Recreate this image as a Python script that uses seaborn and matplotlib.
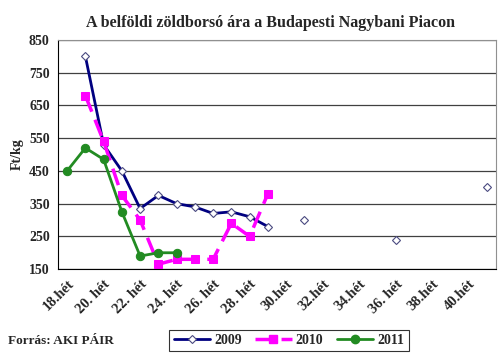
import numpy as np
import seaborn as sns
import matplotlib.pyplot as plt
from matplotlib.lines import Line2D

# Adatok (heti árak, Ft/kg)
weeks = list(range(18, 42))
nan = np.nan
price_2009 = [nan, 800, 530, 450, 335, 375, 350, 340, 320, 325, 310, 280,
              nan, 300, nan, nan, nan, nan, 240, nan, nan, nan, nan, 400]
price_2010 = [nan, 680, 540, 375, 300, 165, 180, 180, 180, 290, 250, 380,
              nan, nan, nan, nan, nan, nan, nan, nan, nan, nan, nan, nan]
price_2011 = [450, 520, 485, 325, 190, 200, 200, nan, nan, nan, nan, nan,
              nan, nan, nan, nan, nan, nan, nan, nan, nan, nan, nan, nan]
tick_labels = ["18.hét", "20. hét", "22. hét", "24. hét", "26. hét", "28. hét",
               "30.hét", "32.hét", "34.hét", "36. hét", "38.hét", "40.hét"]

sns.set_style("white")
plt.rcParams['font.family'] = ['Liberation Serif', 'DejaVu Serif']

fig = plt.figure(figsize=(5, 3.56), dpi=100)
ax = fig.add_axes([0.116, 0.244, 0.876, 0.644])

styles = {
    "2009": dict(color="#000080", marker="D", markersize=4.5, markerfacecolor="white",
                 markeredgecolor="#4a4a80", markeredgewidth=0.8, linewidth=2, dashes=False),
    "2010": dict(color="#ff00ff", marker="s", markersize=6, markeredgecolor="#ff00ff",
                 linewidth=2.5, dashes=(5, 2.5)),
    "2011": dict(color="#228b22", marker="o", markersize=6, markeredgecolor="#228b22",
                 linewidth=2, dashes=False),
}


def segments(xs, ys):
    # folytonos szakaszok (NaN = hiányzó adat)
    seg = []
    for x, y in zip(xs, ys):
        if np.isnan(y):
            if seg:
                yield seg
            seg = []
        else:
            seg.append((x, y))
    if seg:
        yield seg


for name, values in [("2009", price_2009), ("2010", price_2010), ("2011", price_2011)]:
    st = dict(styles[name])
    dashes = st.pop("dashes")
    for seg in segments(weeks, values):
        sx = [p[0] for p in seg]
        sy = [p[1] for p in seg]
        sns.lineplot(x=sx, y=sy, ax=ax, legend=False, **st)
        if dashes:
            ax.lines[-1].set_dashes(dashes)

ax.set_xlim(17.5, 41.5)
ax.set_ylim(150, 850)
ax.set_yticks(range(150, 851, 100))
ax.set_yticklabels([str(v) for v in range(150, 851, 100)], fontweight="bold", fontsize=10)
ax.set_xticks(range(18, 41, 2))
ax.set_xticklabels(tick_labels, rotation=45, ha="right", rotation_mode="anchor",
                   fontweight="bold", fontsize=10.5)
ax.set_xticks(np.arange(17.5, 42, 1), minor=True)
ax.tick_params(axis="x", which="major", length=0, pad=6)
ax.tick_params(axis="x", which="minor", length=4, width=0.8, color="black", direction="out")
ax.tick_params(axis="y", length=4, width=0.8, color="black", direction="out", pad=2)
ax.grid(axis="y", color="#404040", linewidth=0.9)
ax.set_axisbelow(True)
for side in ["top", "right"]:
    ax.spines[side].set_color("#909090")
for side in ["left", "bottom"]:
    ax.spines[side].set_color("black")
ax.set_ylabel("Ft/kg", fontweight="bold", fontsize=10, labelpad=4)

fig.text(0.54, 0.935, "A belföldi zöldborsó ára a Budapesti Nagybani Piacon",
         ha="center", va="center", fontweight="bold", fontsize=11.5)
fig.text(0.016, 0.042, "Forrás: AKI PÁIR", ha="left", va="center",
         fontweight="bold", fontsize=9.5)

handles = []
for name in ["2009", "2010", "2011"]:
    st = dict(styles[name])
    dashes = st.pop("dashes")
    h = Line2D([], [], **st)
    if dashes:
        h.set_dashes(dashes)
    handles.append(h)
leg = fig.legend(handles, ["2009", "2010", "2011"], loc="center", ncol=3,
                 bbox_to_anchor=(0.578, 0.044), frameon=True, fancybox=False,
                 edgecolor="black", handlelength=2.6, columnspacing=1.0,
                 handletextpad=0.3, borderpad=0.3, prop={"weight": "bold", "size": 10})
leg.get_frame().set_linewidth(0.8)

fig.savefig("out.png", dpi=100)
